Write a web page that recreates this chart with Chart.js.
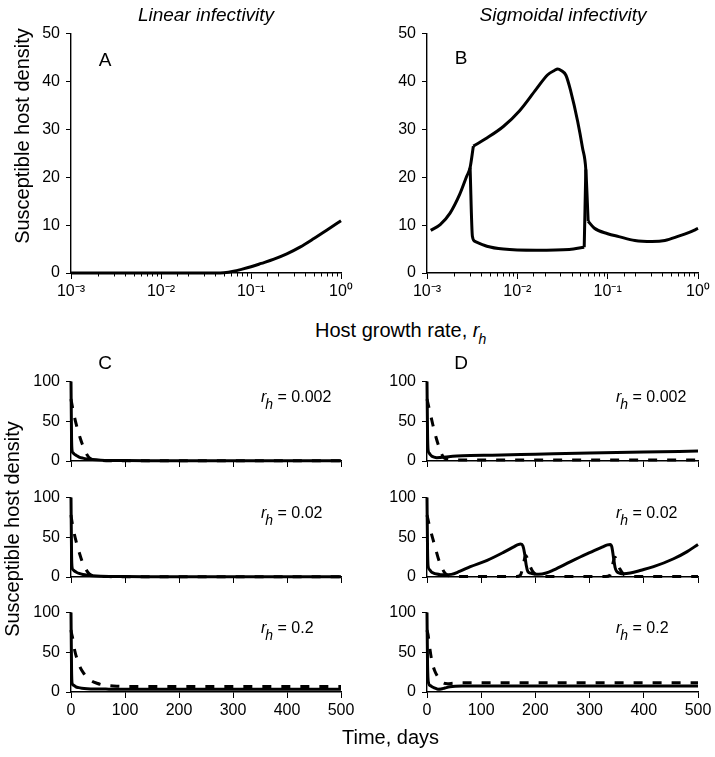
<!DOCTYPE html>
<html>
<head>
<meta charset="utf-8">
<script src="https://cdn.jsdelivr.net/npm/chart.js@4"></script>
<style>
  html, body { margin: 0; padding: 0; background: #fff; overflow: hidden; }
  #fig { position: relative; width: 715px; height: 757px; color: #000;
         font-family: 'Liberation Sans', Arial, Helvetica, sans-serif; }
  #fig canvas { position: absolute; }
  .t   { position: absolute; white-space: nowrap; line-height: 1; }
  .ctr { transform: translate(-50%, -50%); }
  .rot { transform: translate(-50%, -50%) rotate(-90deg); }
  .ttl { font-size: 19px; font-style: italic; }
  .ax  { font-size: 20px; }
  .let { font-size: 19px; }
  .rh  { font-size: 16px; }
  .sub { font-style: italic; font-size: 14px; position: relative; top: 7px; margin-left: -1px; }
</style>
</head>
<body>
<div id="fig">
  <canvas id="cA"  width="358" height="300" style="left:0;top:18px"></canvas>
  <canvas id="cB"  width="359" height="300" style="left:356px;top:18px"></canvas>
  <canvas id="cC1" width="358" height="111" style="left:0;top:366px"></canvas>
  <canvas id="cC2" width="358" height="111" style="left:0;top:482px"></canvas>
  <canvas id="cC3" width="358" height="135" style="left:0;top:597px"></canvas>
  <canvas id="cD1" width="359" height="111" style="left:356px;top:366px"></canvas>
  <canvas id="cD2" width="359" height="111" style="left:356px;top:482px"></canvas>
  <canvas id="cD3" width="359" height="135" style="left:356px;top:597px"></canvas>

  <div class="t ctr ttl" style="left:206px;top:14px">Linear infectivity</div>
  <div class="t ctr ttl" style="left:563px;top:14px">Sigmoidal infectivity</div>

  <div class="t rot ax" style="left:22px;top:136px">Susceptible host density</div>
  <div class="t rot ax" style="left:12px;top:529px">Susceptible host density</div>
  <div class="t ax" style="left:315px;top:320px">Host growth rate, <i>r</i><span class="sub">h</span></div>
  <div class="t ax" style="left:342px;top:727px">Time, days</div>

  <div class="t ctr let" style="left:105px;top:59px">A</div>
  <div class="t ctr let" style="left:461px;top:57px">B</div>
  <div class="t ctr let" style="left:105px;top:362px">C</div>
  <div class="t ctr let" style="left:461px;top:362px">D</div>

  <div id="rh-labels"></div>
</div>

<script>
'use strict';

// ── Data ─────────────────────────────────────────────────────────────────────

// A: linear infectivity, density vs host growth rate
const growthA = [0.001, 0.003, 0.01, 0.03, 0.04, 0.05, 0.064, 0.08, 0.1, 0.13, 0.18, 0.25, 0.35, 0.5, 0.7, 1.0];
const densA   = [0, 0, 0, 0, 0, 0.05, 0.35, 0.8, 1.3, 2.0, 2.9, 4.0, 5.4, 7.2, 9.0, 10.9];

// B: sigmoidal infectivity (pieces of the outer branch, then the inner loop)
const growthBLeft  = [0.0011, 0.0014, 0.0018, 0.0023, 0.00275, 0.0030, 0.00326];
const densBLeft    = [8.9, 10.1, 12.5, 16.4, 20.2, 22.0, 26.5];
const growthBUpper = [0.00326, 0.0046, 0.007, 0.0106, 0.0162, 0.0217, 0.0257, 0.028, 0.0305,
                      0.0345, 0.039, 0.0465, 0.0527, 0.0573, 0.0608];
const densBUpper   = [26.5, 28.2, 30.6, 33.9, 38.4, 41.4, 42.3, 42.6, 42.3,
                      41.3, 38.0, 31.7, 26.1, 21.6, 10.8];
const growthBRight = [0.0608, 0.0708, 0.1, 0.133, 0.2, 0.31, 0.43, 0.61, 0.8, 1.0];
const densBRight   = [10.8, 9.4, 8.2, 7.6, 6.8, 6.6, 6.8, 7.7, 8.5, 9.3];
const growthBLoop  = [0.0030, 0.00318, 0.0034, 0.0046, 0.007, 0.0162, 0.0376, 0.055];
const densBLoop    = [22.0, 7.7, 6.6, 5.6, 5.0, 4.75, 4.9, 5.4];
const growthBRise  = [0.055, 0.0573];
const densBRise    = [5.4, 21.6];

const decadeExps   = [-3, -2, -1, 0];
const decadeLabels = ['10\u207B\u00B3', '10\u207B\u00B2', '10\u207B\u00B9', '10\u2070'];

// C: linear infectivity time series (solid / dashed), r_h = 0.002, 0.02, 0.2
const c1Days    = [0, 1, 2, 4, 7, 10, 15, 22, 30, 40, 55, 75, 100, 150, 250, 500];
const c1Solid   = [100, 30, 13, 10, 8.2, 7, 5, 3.6, 2.6, 1.8, 1.1, 0.7, 0.5, 0.35, 0.25, 0.2];
const c1DashDays = [0, 1, 5, 9, 13, 17, 21, 26, 30, 34, 40, 50, 70, 100, 500];
const c1Dash     = [78, 74, 60, 48, 38, 29, 21, 13, 7.5, 4, 1.8, 0.8, 0.4, 0.25, 0.2];

const c2Days    = [0, 1, 2, 4, 7, 10, 15, 22, 30, 40, 55, 75, 100, 150, 250, 500];
const c2Solid   = [100, 30, 12, 9, 7.2, 6, 4.5, 3.2, 2.3, 1.6, 1.0, 0.7, 0.5, 0.4, 0.3, 0.3];
const c2DashDays = [0, 1, 5, 9, 13, 17, 21, 26, 30, 34, 40, 50, 70, 100, 500];
const c2Dash     = [78, 73, 58, 46, 36, 27, 19, 12, 7, 3.8, 1.8, 0.9, 0.5, 0.3, 0.3];

const c3Days    = [0, 1, 2, 5, 9, 14, 20, 30, 45, 70, 100, 500];
const c3Solid   = [100, 30, 11, 8.5, 6.5, 5.5, 4.8, 4.2, 3.8, 3.6, 3.5, 3.5];
const c3DashDays = [0, 1, 3, 7, 12, 17, 23, 29, 38, 48, 58, 70, 85, 100, 500];
const c3Dash     = [78, 74, 68, 52, 40, 31, 24, 19, 14, 11, 9, 8, 7.3, 7, 7];

// D: sigmoidal infectivity time series
const d1Days    = [0, 1, 2, 4, 6, 9, 13, 18, 24, 30, 40, 55, 80, 120, 200, 300, 400, 500];
const d1Solid   = [100, 35, 14, 10, 8, 6, 4.8, 4.2, 4.3, 4.8, 5.5, 6.2, 6.8, 7.3, 8.5, 10, 11.3, 12.5];
const d1DashDays = [0, 2, 5, 8, 11, 14, 17, 21, 25, 30, 35, 45, 60, 500];
const d1Dash     = [78, 72, 63, 54, 45, 37, 29, 20, 12, 5, 2.5, 1.5, 1.2, 1.2];

const d2Days    = [0, 1, 2, 5, 8, 12, 18, 25, 32, 45, 60, 80, 111, 141, 160, 168, 173, 177, 180, 183,
                   186, 191, 198, 206, 220, 234, 264, 295, 323, 333, 338, 341, 344, 347, 350, 356, 363,
                   375, 395, 418, 455, 480, 500];
const d2Solid   = [100, 35, 14, 9, 6.5, 5, 3.8, 3, 2.8, 3.3, 7, 13, 21, 31, 38, 40.8, 41.5, 39, 30, 15,
                   7, 4.8, 3.8, 3.4, 5, 9, 19, 29, 37.5, 40.5, 41, 38, 25, 12, 7, 4.7, 4,
                   5, 8.5, 13, 23, 32, 41];
const d2DashDays = [0, 2, 5, 8, 12, 16, 21, 26, 31, 36, 40, 50, 80, 165, 172, 176, 179, 182, 186, 190,
                    195, 202, 212, 330, 337, 341, 344, 347, 351, 356, 362, 368, 378, 500];
const d2Dash     = [78, 72, 63, 55, 45, 35, 23, 14, 7, 3, 1.5, 0.8, 0.5, 0.5, 2, 10, 20, 27, 22, 14,
                    7, 2.5, 0.8, 0.5, 2, 10, 20, 25, 18, 10, 4, 1.5, 0.6, 0.5];

const d3Days    = [0, 1, 3, 6, 11, 16, 20, 26, 33, 42, 52, 65, 80, 500];
const d3Solid   = [100, 35, 11, 8, 6, 4.5, 3.6, 3.8, 5, 6.5, 7.3, 7.5, 7.5, 7.5];
const d3DashDays = [0, 2, 5, 9, 14, 19, 24, 30, 38, 48, 60, 500];
const d3Dash     = [78, 72, 56, 39, 27, 20, 15, 11.5, 10.5, 11, 11.5, 11.5];

const rhValues = ['0.002', '0.02', '0.2'];

// ── Helpers ──────────────────────────────────────────────────────────────────

const FONT = "'Liberation Sans', Arial, Helvetica, sans-serif";

function pts(xs, ys) {
  return xs.map((x, i) => ({ x, y: ys[i] }));
}

function solid(xs, ys) {
  return { data: pts(xs, ys), borderColor: '#000', borderWidth: 3, pointRadius: 0,
           fill: false, clip: false, cubicInterpolationMode: 'monotone', borderJoinStyle: 'round' };
}

function dashed(xs, ys) {
  return Object.assign(solid(xs, ys), { borderDash: [9, 10], borderCapStyle: 'butt' });
}

// short minor ticks on the log axis
const minorTicks = {
  id: 'minorTicks',
  afterDraw(chart) {
    const sc = chart.scales.x;
    if (sc.type !== 'logarithmic') return;
    const ctx = chart.ctx;
    ctx.save();
    ctx.strokeStyle = '#000';
    ctx.lineWidth = 1;
    sc.ticks.forEach(t => {
      if (t.major) return;
      const px = Math.round(sc.getPixelForValue(t.value)) + 0.5;
      ctx.beginPath();
      ctx.moveTo(px, sc.top);
      ctx.lineTo(px, sc.top + 3.5);
      ctx.stroke();
    });
    ctx.restore();
  }
};

function decadeLabel(v) {
  const e = Math.log10(v);
  const k = decadeExps.indexOf(Math.round(e));
  return (Math.abs(e - Math.round(e)) < 1e-9 && k >= 0) ? decadeLabels[k] : '';
}

function makeChart(id, cfg) {
  const tickFont = { family: FONT, size: 16 };
  const isLog = cfg.xType === 'logarithmic';
  return new Chart(document.getElementById(id), {
    type: 'line',
    data: { datasets: cfg.datasets },
    options: {
      responsive: false,
      animation: false,
      devicePixelRatio: 1,
      layout: { padding: cfg.pad },
      plugins: { legend: { display: false }, tooltip: { enabled: false } },
      scales: {
        x: {
          type: cfg.xType,
          min: cfg.xMin,
          max: cfg.xMax,
          border: { display: true, color: '#000', width: 1.4 },
          grid: {
            display: true, drawOnChartArea: false, drawTicks: true, tickLength: 6, tickWidth: 1,
            tickColor: isLog ? (c => (c.tick && c.tick.major) ? '#000' : 'rgba(0,0,0,0)') : '#000',
          },
          ticks: {
            display: cfg.showX,
            autoSkip: false,
            maxRotation: 0,
            color: '#000',
            font: tickFont,
            padding: 3,
            stepSize: isLog ? undefined : 100,
            callback: isLog ? decadeLabel : (v => v),
          },
          afterFit: s => { s.height = cfg.xHeight; },
        },
        y: {
          min: 0,
          max: cfg.yMax,
          border: { display: true, color: '#000', width: 1.4 },
          grid: { display: true, drawOnChartArea: false, drawTicks: true, tickLength: 5, tickColor: '#000' },
          ticks: { stepSize: cfg.yStep, color: '#000', font: tickFont, padding: 6 },
          afterFit: s => { s.width = 71; },
        },
      },
    },
    plugins: [minorTicks],
  });
}

// ── Top row ──────────────────────────────────────────────────────────────────

const topCfg = { xType: 'logarithmic', xMin: 0.001, xMax: 1, yMax: 50, yStep: 10,
                 showX: true, xHeight: 45, pad: { top: 15, left: 0, right: 17, bottom: 0 } };

makeChart('cA', Object.assign({}, topCfg, { datasets: [solid(growthA, densA)] }));
makeChart('cB', Object.assign({}, topCfg, {
  datasets: [
    solid(growthBLeft, densBLeft),
    solid(growthBUpper, densBUpper),
    solid(growthBRight, densBRight),
    solid(growthBLoop, densBLoop),
    solid(growthBRise, densBRise),
  ],
}));

// ── Time series ──────────────────────────────────────────────────────────────

const rows = [
  { c: [c1Days, c1Solid, c1DashDays, c1Dash], d: [d1Days, d1Solid, d1DashDays, d1Dash] },
  { c: [c2Days, c2Solid, c2DashDays, c2Dash], d: [d2Days, d2Solid, d2DashDays, d2Dash] },
  { c: [c3Days, c3Solid, c3DashDays, c3Dash], d: [d3Days, d3Solid, d3DashDays, d3Dash] },
];
const rowTops = [378, 494, 609];

rows.forEach((row, i) => {
  const last = i === rows.length - 1;
  const base = { xType: 'linear', xMin: 0, xMax: 500, yMax: 100, yStep: 50, showX: last,
                 xHeight: last ? 40 : 16, pad: { top: 12, left: 0, right: 17, bottom: 0 } };
  makeChart('cC' + (i + 1), Object.assign({}, base, {
    datasets: [dashed(row.c[2], row.c[3]), solid(row.c[0], row.c[1])],
  }));
  makeChart('cD' + (i + 1), Object.assign({}, base, {
    datasets: [dashed(row.d[2], row.d[3]), solid(row.d[0], row.d[1])],
  }));

  // r_h annotations
  const holder = document.getElementById('rh-labels');
  [261, 616].forEach(left => {
    const el = document.createElement('div');
    el.className = 't rh';
    el.style.left = left + 'px';
    el.style.top = (rowTops[i] + 24 - 13.5) + 'px';
    el.innerHTML = '<i>r</i><span class="sub">h</span> = ' + rhValues[i];
    holder.appendChild(el);
  });
});
</script>
</body>
</html>
